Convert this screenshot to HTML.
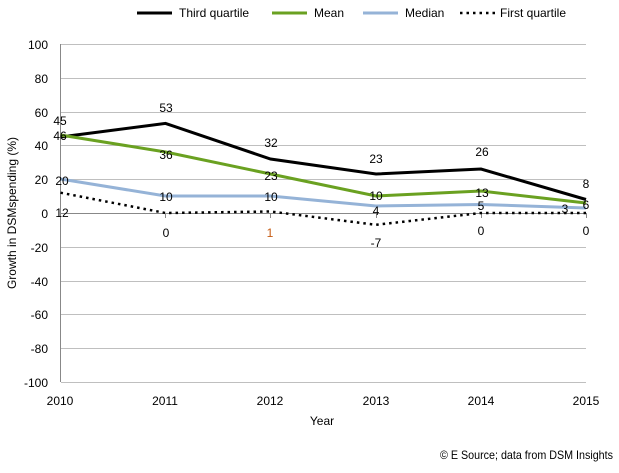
<!DOCTYPE html>
<html><head><meta charset="utf-8"><style>
body{margin:0;background:#fff}
svg text{font-family:"Liberation Sans",Arial,sans-serif;font-size:12px;fill:#000}
</style></head><body>
<svg width="619" height="468" xmlns="http://www.w3.org/2000/svg">
<g stroke="#bfbfbf" stroke-width="1">
<line x1="61" x2="586" y1="44.5" y2="44.5"/><line x1="61" x2="586" y1="78.5" y2="78.5"/>
<line x1="61" x2="586" y1="112.5" y2="112.5"/><line x1="61" x2="586" y1="145.5" y2="145.5"/>
<line x1="61" x2="586" y1="179.5" y2="179.5"/>
<line x1="61" x2="586" y1="247.5" y2="247.5"/><line x1="61" x2="586" y1="281.5" y2="281.5"/>
<line x1="61" x2="586" y1="314.5" y2="314.5"/><line x1="61" x2="586" y1="348.5" y2="348.5"/>
<line x1="61" x2="586" y1="382.5" y2="382.5"/>
</g>
<g stroke="#888" stroke-width="1">
<line x1="60.5" x2="60.5" y1="44" y2="382"/>
<line x1="61" x2="586" y1="213.5" y2="213.5"/>
<line x1="165.5" x2="165.5" y1="213" y2="218"/><line x1="270.5" x2="270.5" y1="213" y2="218"/>
<line x1="376.5" x2="376.5" y1="213" y2="218"/><line x1="481.5" x2="481.5" y1="213" y2="218"/>
<line x1="586.5" x2="586.5" y1="213" y2="218"/>
</g>
<g text-anchor="end">
<text x="48" y="49">100</text><text x="48" y="83">80</text><text x="48" y="117">60</text>
<text x="48" y="150">40</text><text x="48" y="184">20</text><text x="48" y="218">0</text>
<text x="48" y="252">-20</text><text x="48" y="286">-40</text><text x="48" y="319">-60</text>
<text x="48" y="353">-80</text><text x="48" y="387">-100</text>
</g>
<g text-anchor="middle">
<text x="60" y="405">2010</text><text x="165" y="405">2011</text><text x="270" y="405">2012</text>
<text x="376" y="405">2013</text><text x="481" y="405">2014</text><text x="586" y="405">2015</text>
<text x="322" y="425">Year</text>
</g>
<text transform="translate(16,213) rotate(-90)" text-anchor="middle" font-size="11.5">Growth in DSMspending (%)</text>
<text x="440" y="459" textLength="173" lengthAdjust="spacingAndGlyphs">© E Source; data from DSM Insights</text>
<polyline fill="none" stroke="#000" stroke-width="3" points="60.5,137 165.5,123.4 270.5,159 376,174 481,169 586,199.5"/>
<polyline fill="none" stroke="#6aa121" stroke-width="3" points="60.5,135 165.5,152 270.5,174 376,196 481,191 586,203"/>
<polyline fill="none" stroke="#95b3d7" stroke-width="3" points="60.5,179 165.5,196 270.5,196 376,206 481,204.5 586,208"/>
<polyline fill="none" stroke="#000" stroke-width="2.5" stroke-dasharray="2.5,4" points="60.5,192.7 165.5,213 270.5,211.5 376,224.8 481,213 586,213"/>
<g text-anchor="middle">
<text x="60" y="125">45</text><text x="166" y="112">53</text><text x="271" y="147">32</text>
<text x="376" y="163">23</text><text x="482" y="156">26</text><text x="586" y="188">8</text>
<text x="60" y="140">46</text><text x="166" y="159">36</text><text x="271" y="180">23</text>
<text x="376" y="200">10</text><text x="482" y="197">13</text><text x="586" y="209">6</text>
<text x="62" y="185">20</text><text x="166" y="201">10</text><text x="271" y="201">10</text>
<text x="376" y="215">4</text><text x="481" y="210">5</text><text x="565" y="213">3</text>
<text x="62" y="217">12</text><text x="166" y="237">0</text><text x="270" y="237" style="fill:#c55a11">1</text>
<text x="376" y="247">-7</text><text x="481" y="235">0</text><text x="586" y="235">0</text>
</g>
<line x1="137" x2="172" y1="13" y2="13" stroke="#000" stroke-width="3"/>
<text x="179" y="17">Third quartile</text>
<line x1="272" x2="307" y1="13" y2="13" stroke="#6aa121" stroke-width="3"/>
<text x="314" y="17">Mean</text>
<line x1="363" x2="398" y1="13" y2="13" stroke="#95b3d7" stroke-width="3"/>
<text x="405" y="17">Median</text>
<line x1="460" x2="495" y1="13" y2="13" stroke="#000" stroke-width="2.5" stroke-dasharray="2.5,4"/>
<text x="500" y="17">First quartile</text>
</svg>
</body></html>
